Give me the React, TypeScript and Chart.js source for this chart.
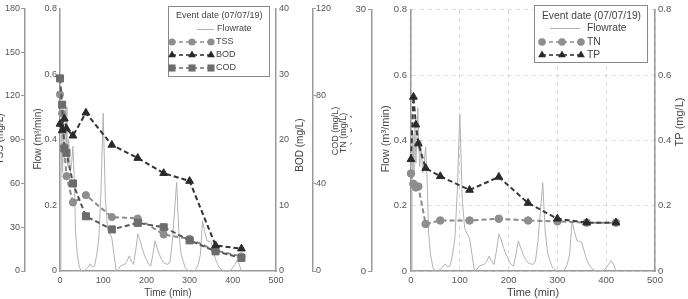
import React, { useEffect, useRef } from 'react';
import { Chart, registerables } from 'chart.js';

Chart.register(...registerables);

// ---------------- data ----------------
const sampleTimes = [0, 5, 10, 15, 30, 60, 120, 180, 240, 300, 360, 420];
const tssValues = [121, 108, 85, 65, 47, 52, 37, 36, 25, 22, 14, 10];
const bodValues = [22.4, 21.4, 23.2, 21.7, 20.6, 24.1, 19.2, 17.2, 14.9, 13.7, 3.9, 3.4];
const codValues = [88, 76, 56, 54, 40, 25, 19, 22, 20, 14, 9, 6];
const tnValues = [11.2, 10, 9.6, 9.7, 5.4, 5.8, 5.8, 6.0, 5.8, 5.7, 5.55, 5.55];
const tpValues = [0.342, 0.533, 0.448, 0.39, 0.315, 0.29, 0.248, 0.288, 0.208, 0.16, 0.148, 0.148];

const flowTimes = [
  0, 2, 4, 6, 8, 10, 12, 14, 16, 18, 20, 22, 24, 27, 30, 33, 36, 40, 45,
  50, 55, 60, 65, 70, 75, 80, 85, 90, 95,
  100, 105, 110, 115, 120, 125, 130, 135, 140, 145,
  150, 155, 160, 165, 170, 175, 180, 185, 190, 195,
  200, 205, 210, 215, 220, 225, 230, 235, 240, 245,
  250, 255, 260, 265, 270, 275, 280, 285, 290, 295,
  300, 305, 310, 315, 320, 325, 330, 335, 340, 345,
  350, 355, 360, 365, 370, 375, 380, 385, 390, 395,
  400, 405, 410, 415, 420,
];
const flowValues = [
  0.0, 0.25, 0.42, 0.3, 0.45, 0.33, 0.4, 0.5, 0.38, 0.32, 0.4, 0.35, 0.3, 0.33, 0.38, 0.28, 0.12, 0.05, 0.01,
  0, 0, 0.005, 0.012, 0.022, 0.012, 0.015, 0.05, 0.1, 0.25,
  0.48, 0.22, 0.13, 0.115, 0.1, 0.05, 0, 0.005, 0.015, 0.018,
  0.02, 0.03, 0.045, 0.03, 0.02, 0.06, 0.113, 0.095, 0.07, 0.05,
  0.035, 0.02, 0.015, 0.05, 0.092, 0.07, 0.05, 0.035, 0.025, 0.022,
  0.02, 0.03, 0.09, 0.18, 0.27, 0.12, 0.055, 0.03, 0.01, 0.003,
  0, 0, 0, 0.005, 0.02, 0.05, 0.153, 0.12, 0.093, 0.09,
  0.088, 0.06, 0.035, 0.02, 0.008, 0.003, 0, 0, 0, 0.002,
  0.01, 0.02, 0.032, 0.02, 0,
];

const legendTitle = 'Event date (07/07/19)';
const leftLegendLabels = ['Flowrate', 'TSS', 'BOD', 'COD'];
const rightLegendLabels = ['Flowrate', 'TN', 'TP'];

// ---------------- styling ----------------
const FONT = "'Liberation Sans', Arial, Helvetica, sans-serif";
const LABEL_COLOR = '#555';
const TEXT_COLOR = '#444';
const AXIS_COLOR = '#9a9a9a';
const FLOW_COLOR = '#b2b2b2';
const TSS_COLOR = '#8e8e8e';
const BOD_COLOR = '#2a2a2a';
const COD_COLOR = '#6c6c6c';
const TN_COLOR = '#8e8e8e';
const TP_COLOR = '#2a2a2a';

const LEFT_X = -12;
const LEFT_W = 362;
const RIGHT_X = 350;
const RIGHT_W = 338;
const H = 299;

const pts = (xs: number[], ys: number[]) => xs.map((x, i) => ({ x, y: ys[i] }));
const fmt = (v: any) => String(Math.round(Number(v) * 100) / 100);

function drawMarker(ctx: CanvasRenderingContext2D, style: string, x: number, y: number, r: number, color: string) {
  ctx.save();
  ctx.fillStyle = color;
  ctx.beginPath();
  if (style === 'circle') {
    ctx.arc(x, y, r, 0, Math.PI * 2);
  } else if (style === 'rect') {
    const s = r * Math.SQRT1_2;
    ctx.rect(x - s, y - s, 2 * s, 2 * s);
  } else {
    ctx.moveTo(x, y - r);
    ctx.lineTo(x + r * 0.866, y + r * 0.5);
    ctx.lineTo(x - r * 0.866, y + r * 0.5);
    ctx.closePath();
  }
  ctx.fill();
  ctx.restore();
}

type TextItem = { text: string; x: number; y: number; size: number; rotate?: boolean };
type LegendRow = { label: string; flow?: boolean; marker?: string; color?: string; radius?: number; y: number };
type LegendSpec = {
  box: [number, number, number, number];
  titleX: number;
  titleY: number;
  size: number;
  markerXs: number[];
  flowLine: [number, number];
  labelX: number;
  flowLabelX: number;
  rows: LegendRow[];
};

function overlayPlugin(off: number, texts: TextItem[], lg: LegendSpec) {
  return {
    id: 'overlay' + off,
    afterDraw(chart: any) {
      const ctx: CanvasRenderingContext2D = chart.ctx;
      ctx.save();
      for (const t of texts) {
        ctx.save();
        ctx.fillStyle = TEXT_COLOR;
        ctx.font = `${t.size}px ${FONT}`;
        ctx.textAlign = 'center';
        ctx.textBaseline = 'middle';
        ctx.translate(t.x - off, t.y);
        if (t.rotate) ctx.rotate(-Math.PI / 2);
        ctx.fillText(t.text, 0, 0);
        ctx.restore();
      }
      // legend
      const [bx, by, bw, bh] = lg.box;
      ctx.fillStyle = '#fff';
      ctx.fillRect(bx - off, by, bw, bh);
      ctx.strokeStyle = '#8a8a8a';
      ctx.lineWidth = 1;
      ctx.strokeRect(bx - off + 0.5, by + 0.5, bw, bh);
      ctx.fillStyle = TEXT_COLOR;
      ctx.font = `${lg.size}px ${FONT}`;
      ctx.textAlign = 'left';
      ctx.textBaseline = 'middle';
      ctx.fillText(legendTitle, lg.titleX - off, lg.titleY);
      for (const row of lg.rows) {
        if (row.flow) {
          ctx.save();
          ctx.strokeStyle = FLOW_COLOR;
          ctx.lineWidth = 1;
          ctx.beginPath();
          ctx.moveTo(lg.flowLine[0] - off, row.y + 0.5);
          ctx.lineTo(lg.flowLine[1] - off, row.y + 0.5);
          ctx.stroke();
          ctx.restore();
          ctx.fillStyle = TEXT_COLOR;
          ctx.fillText(row.label, lg.flowLabelX - off, row.y);
        } else {
          ctx.save();
          ctx.strokeStyle = row.color!;
          ctx.lineWidth = 1.5;
          ctx.setLineDash([4, 3]);
          ctx.beginPath();
          ctx.moveTo(lg.markerXs[0] - off, row.y);
          ctx.lineTo(lg.markerXs[lg.markerXs.length - 1] - off, row.y);
          ctx.stroke();
          ctx.restore();
          for (const mx of lg.markerXs) drawMarker(ctx, row.marker!, mx - off, row.y, row.radius!, row.color!);
          ctx.fillStyle = TEXT_COLOR;
          ctx.fillText(row.label, lg.labelX - off, row.y);
        }
      }
      ctx.restore();
    },
  };
}

function yAxis(opts: {
  position: 'left' | 'right';
  weight: number;
  width: number;
  min: number;
  max: number;
  step: number;
  tick: number;
  pad: number;
  size: number;
  grid?: boolean;
}) {
  return {
    type: 'linear',
    position: opts.position,
    weight: opts.weight,
    min: opts.min,
    max: opts.max,
    afterFit: (s: any) => {
      s.width = opts.width;
    },
    ticks: {
      stepSize: opts.step,
      callback: fmt,
      padding: opts.pad,
      color: LABEL_COLOR,
      font: { family: FONT, size: opts.size },
    },
    grid: opts.grid
      ? { display: true, drawOnChartArea: true, drawTicks: false, color: '#dadada', lineWidth: 1 }
      : {
          display: opts.tick > 0,
          drawOnChartArea: false,
          drawTicks: opts.tick > 0,
          tickLength: opts.tick,
          color: AXIS_COLOR,
          lineWidth: 1,
        },
    border: { display: true, color: AXIS_COLOR, width: 1.5, dash: opts.grid ? [4, 4] : [] },
  };
}

function xAxis(size: number, grid: boolean) {
  return {
    type: 'linear',
    min: 0,
    max: 500,
    afterFit: (s: any) => {
      s.height = 28;
    },
    ticks: {
      stepSize: 100,
      padding: 4,
      maxRotation: 0,
      autoSkip: false,
      color: LABEL_COLOR,
      font: { family: FONT, size },
      callback: fmt,
    },
    grid: grid
      ? { display: true, drawOnChartArea: true, drawTicks: false, color: '#dadada', lineWidth: 1 }
      : { display: false, drawTicks: false },
    border: { display: true, color: AXIS_COLOR, width: 1.5, dash: grid ? [4, 4] : [] },
  };
}

function series(label: string, ys: number[], axis: string, style: string, r: number, color: string, lineColor: string, order: number) {
  return {
    label,
    data: pts(sampleTimes, ys),
    yAxisID: axis,
    borderColor: lineColor,
    backgroundColor: color,
    borderWidth: 2,
    borderDash: [5, 3],
    pointStyle: style,
    pointRadius: r,
    pointBackgroundColor: color,
    pointBorderColor: color,
    pointBorderWidth: 1,
    tension: 0,
    clip: false,
    order,
  };
}

function flowSeries() {
  return {
    label: 'Flowrate',
    data: pts(flowTimes, flowValues),
    yAxisID: 'y',
    borderColor: FLOW_COLOR,
    borderWidth: 1,
    pointRadius: 0,
    tension: 0,
    clip: false,
    order: 10,
  };
}

function baseOptions(scales: any) {
  return {
    responsive: false,
    animation: false,
    devicePixelRatio: 1,
    layout: { padding: { top: 7, left: 0, right: 0, bottom: 0 } },
    plugins: { legend: { display: false }, tooltip: { enabled: false }, title: { display: false } },
    scales,
  };
}

export default function App() {
  const leftRef = useRef<HTMLCanvasElement>(null);
  const rightRef = useRef<HTMLCanvasElement>(null);

  useEffect(() => {
    const leftChart = new Chart(leftRef.current!, {
      type: 'line',
      data: {
        datasets: [
          series('BOD', bodValues, 'yBOD', 'triangle', 4.5, BOD_COLOR, '#333', 1),
          series('COD', codValues, 'yCOD', 'rect', 5, COD_COLOR, '#555', 2),
          series('TSS', tssValues, 'yTSS', 'circle', 3.6, TSS_COLOR, '#8a8a8a', 3),
          flowSeries(),
        ],
      },
      options: baseOptions({
        x: xAxis(9, false),
        yTSS: yAxis({ position: 'left', weight: 2, width: 37, min: 0, max: 180, step: 30, tick: 4, pad: 1, size: 9 }),
        y: yAxis({ position: 'left', weight: 1, width: 35, min: 0, max: 0.8, step: 0.2, tick: 0, pad: 3, size: 9 }),
        yBOD: yAxis({ position: 'right', weight: 1, width: 37, min: 0, max: 40, step: 10, tick: 0, pad: 3, size: 9 }),
        yCOD: yAxis({ position: 'right', weight: 2, width: 37, min: 0, max: 120, step: 40, tick: 3, pad: 0, size: 9 }),
      }) as any,
      plugins: [
        overlayPlugin(
          LEFT_X,
          [
            { text: 'TSS (mg/L)', x: 0, y: 139, size: 10, rotate: true },
            { text: 'Flow (m³/min)', x: 38, y: 139, size: 10, rotate: true },
            { text: 'BOD (mg/L)', x: 300, y: 145, size: 10, rotate: true },
            { text: 'COD (mg/L)', x: 336, y: 131, size: 9, rotate: true },
            { text: 'TN (mg/L)', x: 344, y: 133, size: 9, rotate: true },
            { text: 'Time (min)', x: 168, y: 293, size: 10 },
          ],
          {
            box: [168, 6, 101, 70],
            titleX: 176,
            titleY: 16,
            size: 9,
            markerXs: [172, 192, 211],
            flowLine: [197, 214],
            labelX: 216,
            flowLabelX: 217,
            rows: [
              { label: leftLegendLabels[0], flow: true, y: 29 },
              { label: leftLegendLabels[1], marker: 'circle', color: TSS_COLOR, radius: 3.6, y: 42 },
              { label: leftLegendLabels[2], marker: 'triangle', color: BOD_COLOR, radius: 4.5, y: 55 },
              { label: leftLegendLabels[3], marker: 'rect', color: COD_COLOR, radius: 5, y: 68 },
            ],
          }
        ),
      ],
    });

    const rightChart = new Chart(rightRef.current!, {
      type: 'line',
      data: {
        datasets: [
          series('TP', tpValues, 'yTP', 'triangle', 4.5, TP_COLOR, '#3a3a3a', 1),
          series('TN', tnValues, 'yTN', 'circle', 3.8, TN_COLOR, '#8a8a8a', 2),
          flowSeries(),
        ],
      },
      options: baseOptions({
        x: xAxis(9.5, true),
        yTN: yAxis({ position: 'left', weight: 2, width: 22, min: 0, max: 30, step: 30, tick: 4, pad: 2, size: 9.5 }),
        y: yAxis({ position: 'left', weight: 1, width: 39, min: 0, max: 0.8, step: 0.2, tick: 0, pad: 4, size: 9.5, grid: true }),
        yTP: yAxis({ position: 'right', weight: 1, width: 33, min: 0, max: 0.8, step: 0.2, tick: 0, pad: 3, size: 9.5 }),
      }) as any,
      plugins: [
        overlayPlugin(
          RIGHT_X,
          [
            { text: 'TN (mg/L)', x: 347, y: 139, size: 11, rotate: true },
            { text: 'Flow (m³/min)', x: 386, y: 139, size: 11, rotate: true },
            { text: 'TP (mg/L)', x: 680, y: 122, size: 11, rotate: true },
            { text: 'Time (min)', x: 533, y: 293, size: 11 },
          ],
          {
            box: [534, 5, 113, 57],
            titleX: 542,
            titleY: 16,
            size: 10.3,
            markerXs: [542, 562, 581],
            flowLine: [550, 580],
            labelX: 587,
            flowLabelX: 587,
            rows: [
              { label: rightLegendLabels[0], flow: true, y: 28 },
              { label: rightLegendLabels[1], marker: 'circle', color: TN_COLOR, radius: 3.8, y: 42 },
              { label: rightLegendLabels[2], marker: 'triangle', color: TP_COLOR, radius: 4.5, y: 55 },
            ],
          }
        ),
      ],
    });

    return () => {
      leftChart.destroy();
      rightChart.destroy();
    };
  }, []);

  return (
    <div style={{ position: 'absolute', left: 0, top: 0, width: 688, height: H, overflow: 'hidden', background: '#fff' }}>
      <canvas
        ref={leftRef}
        width={LEFT_W}
        height={H}
        style={{ position: 'absolute', left: LEFT_X, top: 0, width: LEFT_W, height: H }}
      />
      <canvas
        ref={rightRef}
        width={RIGHT_W}
        height={H}
        style={{ position: 'absolute', left: RIGHT_X, top: 0, width: RIGHT_W, height: H }}
      />
    </div>
  );
}
